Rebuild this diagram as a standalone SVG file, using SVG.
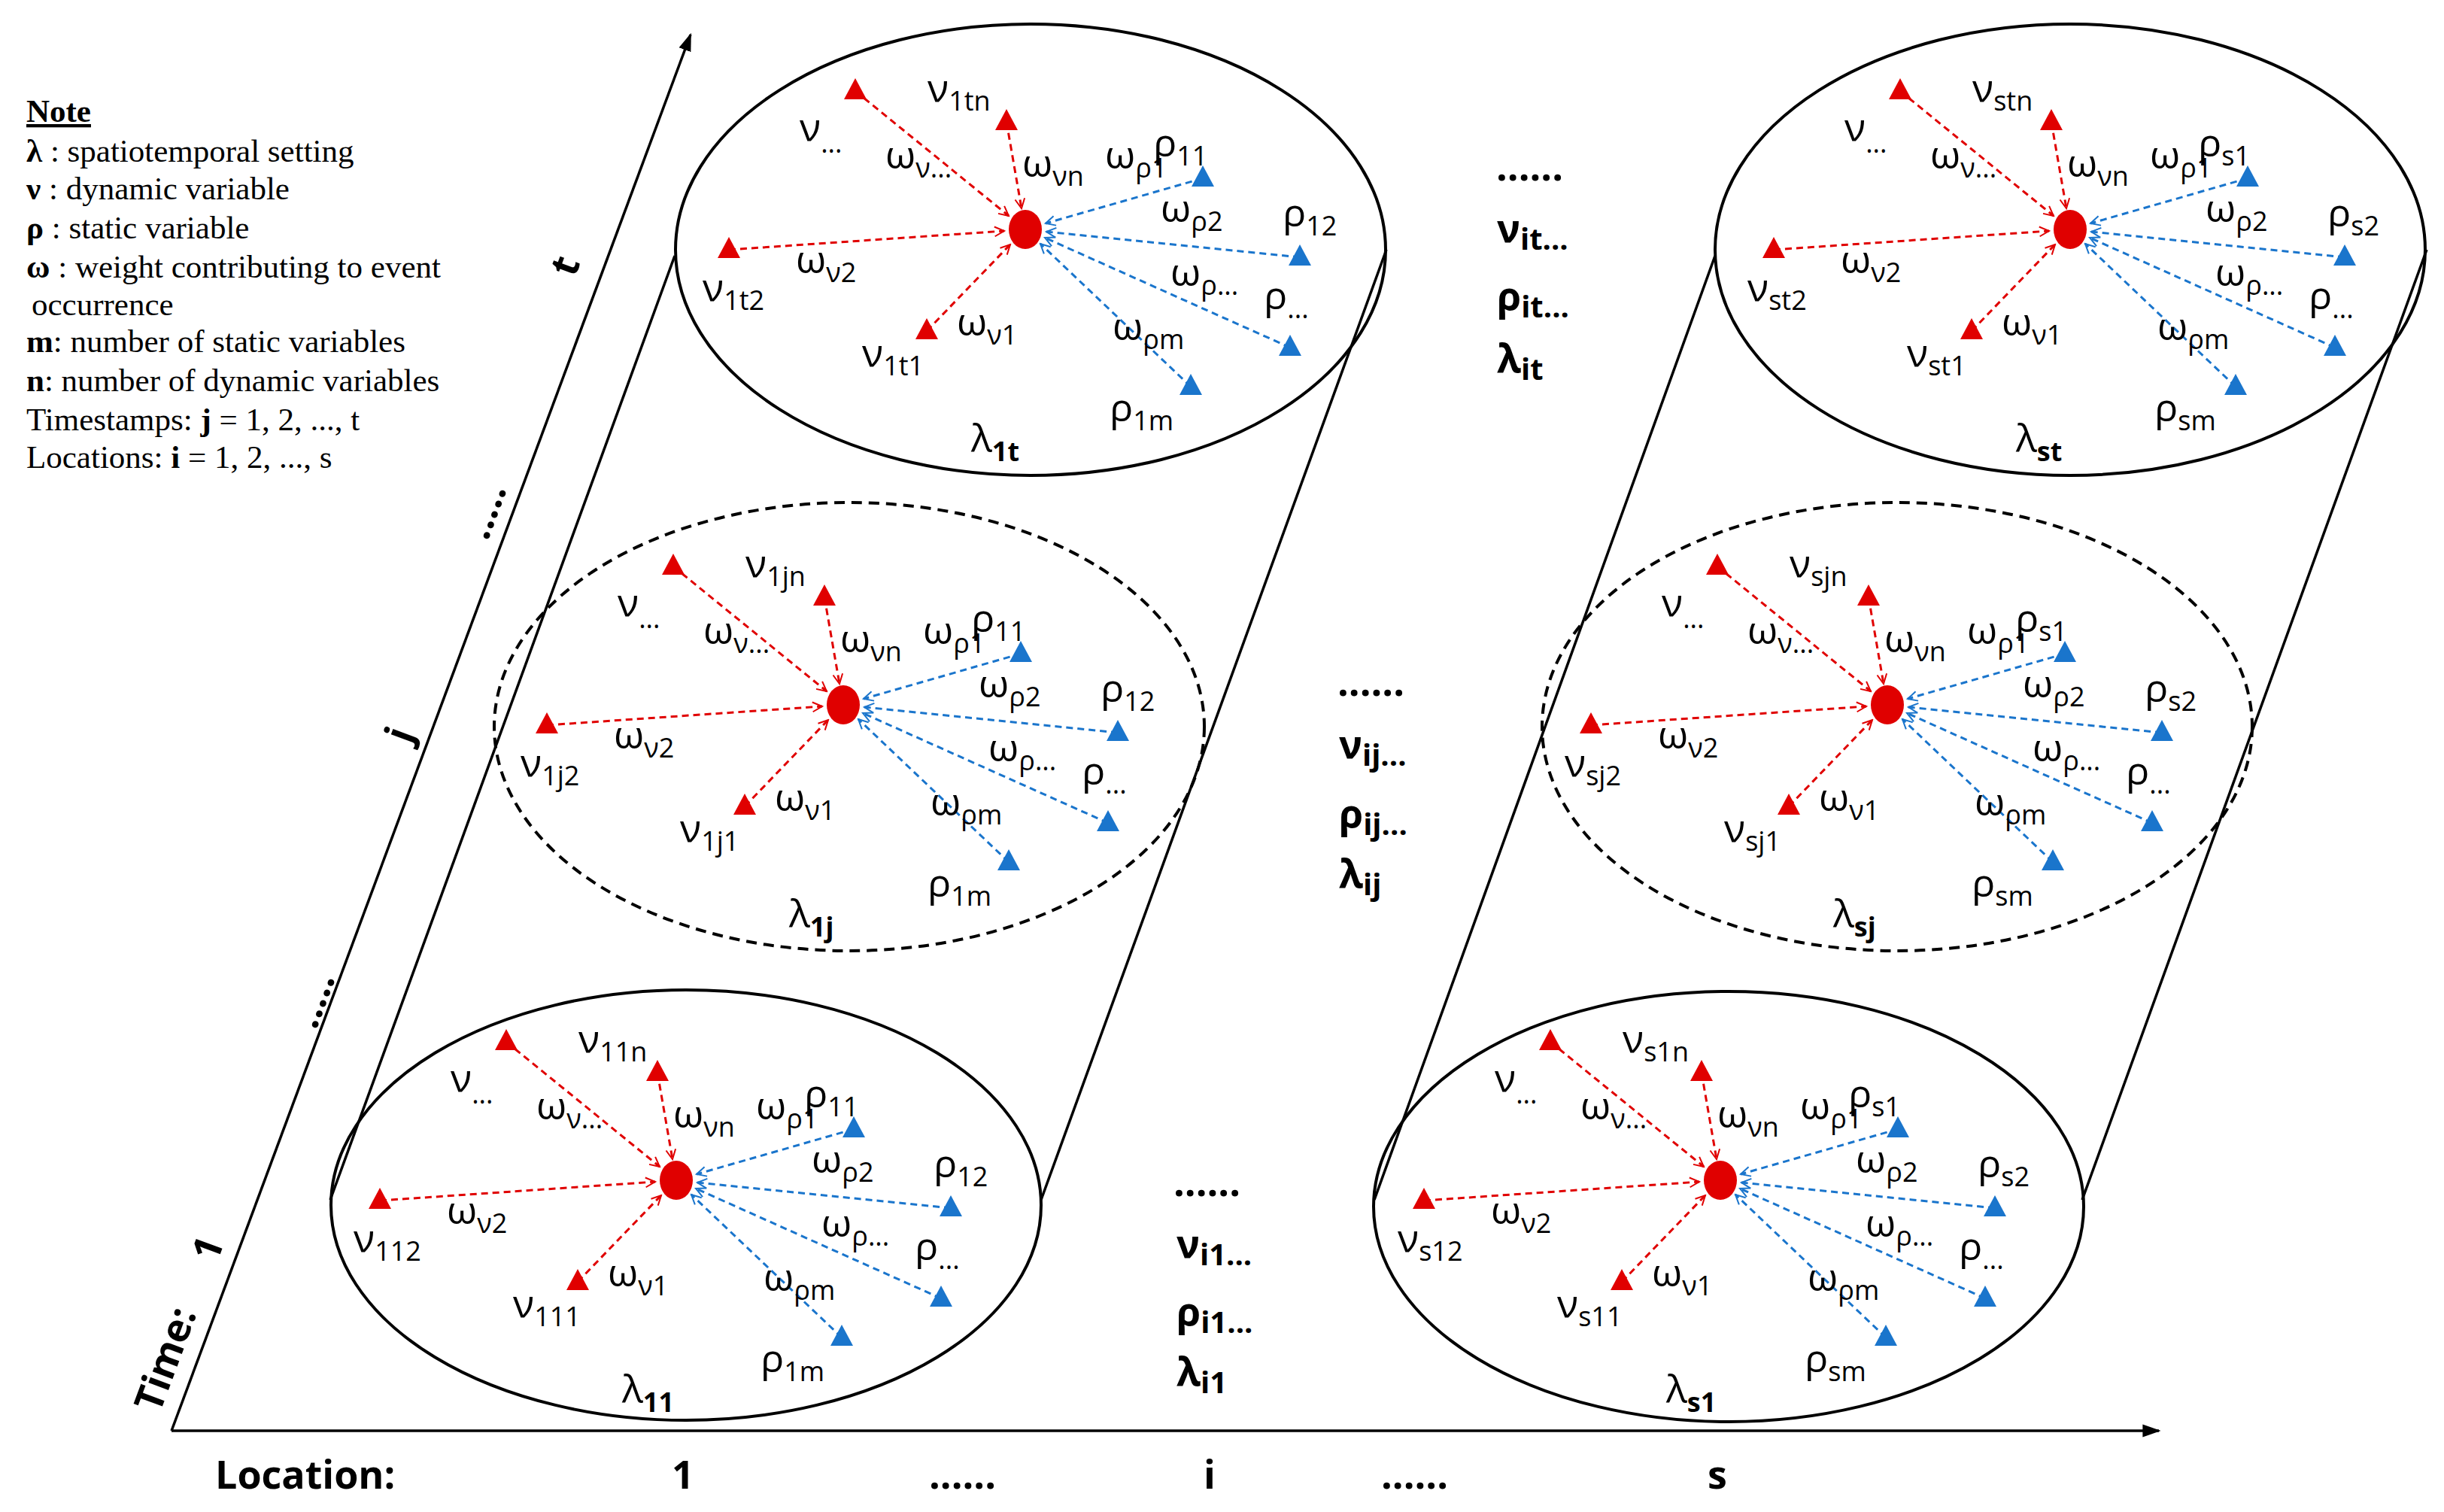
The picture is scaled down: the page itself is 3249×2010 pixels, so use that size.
<svg xmlns="http://www.w3.org/2000/svg" xmlns:xlink="http://www.w3.org/1999/xlink" width="3249" height="2010" viewBox="0 0 3249 2010">
<style>
.s{font-family:"Open Sans","Liberation Sans",sans-serif;font-size:52px;fill:#000}
.sub{font-size:36px}
.b{font-family:"Open Sans","Liberation Sans",sans-serif;font-weight:bold;font-size:52px;fill:#000}
.n{font-family:"Liberation Serif",serif;font-size:43px;fill:#000}
.ell{fill:none;stroke:#000;stroke-width:4}
.dash{stroke-dasharray:14 9}
.rl{stroke:#e00000;stroke-width:3;stroke-dasharray:9 6;fill:none}
.bl{stroke:#1a75cc;stroke-width:3;stroke-dasharray:9 6;fill:none}
.rt{fill:#e00000}.bt{fill:#1a75cc}
.ax{stroke:#000;stroke-width:3.5;fill:none}
</style>
<defs>
<marker id="ar" viewBox="0 0 20 20" refX="18" refY="10" markerWidth="16" markerHeight="16" orient="auto" markerUnits="userSpaceOnUse"><path d="M2,2 L18,10 L2,18" fill="none" stroke="#e00000" stroke-width="2.5"/></marker>
<marker id="ab" viewBox="0 0 20 20" refX="18" refY="10" markerWidth="16" markerHeight="16" orient="auto" markerUnits="userSpaceOnUse"><path d="M2,2 L18,10 L2,18" fill="none" stroke="#1a75cc" stroke-width="2.5"/></marker>
<marker id="ah" viewBox="0 0 20 20" refX="18" refY="10" markerWidth="24" markerHeight="24" orient="auto" markerUnits="userSpaceOnUse"><path d="M0,3 L20,10 L0,17 Z" fill="#000"/></marker>
<polygon id="tri" points="0,-17 15,11 -15,11"/>
<g id="cl">
<line class="rl" x1="-226" y1="-184" x2="-22" y2="-18" marker-end="url(#ar)"/>
<line class="rl" x1="-25" y1="-143" x2="-5" y2="-28" marker-end="url(#ar)"/>
<line class="rl" x1="-394" y1="27" x2="-28" y2="2" marker-end="url(#ar)"/>
<line class="rl" x1="-131" y1="135" x2="-20" y2="20" marker-end="url(#ar)"/>
<line class="bl" x1="236" y1="-68" x2="27" y2="-8" marker-end="url(#ab)"/>
<line class="bl" x1="365" y1="37" x2="28" y2="3" marker-end="url(#ab)"/>
<line class="bl" x1="352" y1="157" x2="26" y2="11" marker-end="url(#ab)"/>
<line class="bl" x1="220" y1="209" x2="20" y2="19" marker-end="url(#ab)"/>
<use xlink:href="#tri" class="rt" x="-226" y="-184"/>
<use xlink:href="#tri" class="rt" x="-25" y="-143"/>
<use xlink:href="#tri" class="rt" x="-394" y="27"/>
<use xlink:href="#tri" class="rt" x="-131" y="135"/>
<use xlink:href="#tri" class="bt" x="236" y="-68"/>
<use xlink:href="#tri" class="bt" x="365" y="37"/>
<use xlink:href="#tri" class="bt" x="352" y="157"/>
<use xlink:href="#tri" class="bt" x="220" y="209"/>
<ellipse cx="0" cy="0" rx="22" ry="26" fill="#e00000"/>
</g>
<g id="w">
<text class="s" x="-300" y="-118">ν<tspan class="sub" dy="16">...</tspan></text>
<text class="s" x="-186" y="-81">ω<tspan class="sub" dy="12">ν...</tspan></text>
<text class="s" x="-4" y="-70">ω<tspan class="sub" dy="12">νn</tspan></text>
<text class="s" x="106" y="-81">ω<tspan class="sub" dy="12">ρ1</tspan></text>
<text class="s" x="180" y="-10">ω<tspan class="sub" dy="12">ρ2</tspan></text>
<text class="s" x="-305" y="58">ω<tspan class="sub" dy="12">ν2</tspan></text>
<text class="s" x="193" y="75">ω<tspan class="sub" dy="12">ρ...</tspan></text>
<text class="s" x="317" y="106">ρ<tspan class="sub" dy="12">...</tspan></text>
<text class="s" x="-91" y="141">ω<tspan class="sub" dy="12">ν1</tspan></text>
<text class="s" x="116" y="147">ω<tspan class="sub" dy="12">ρm</tspan></text>
</g>
</defs>
<rect width="3249" height="2010" fill="#fff"/>

<g id="axes">
<line class="ax" x1="228" y1="1902" x2="2870" y2="1902" marker-end="url(#ah)"/>
<line class="ax" x1="228" y1="1902" x2="918" y2="46" marker-end="url(#ah)"/>
</g>

<g id="note">
<text class="n" x="35" y="162" font-weight="bold" font-family="Liberation Sans,sans-serif" font-size="36" text-decoration="underline">Note</text>
<text class="n" x="35" y="215"><tspan font-weight="bold">λ</tspan> : spatiotemporal setting</text>
<text class="n" x="35" y="265"><tspan font-weight="bold">ν</tspan> : dynamic variable</text>
<text class="n" x="35" y="317"><tspan font-weight="bold">ρ</tspan> : static variable</text>
<text class="n" x="35" y="369"><tspan font-weight="bold">ω</tspan> : weight contributing to event</text>
<text class="n" x="42" y="419">occurrence</text>
<text class="n" x="35" y="468"><tspan font-weight="bold">m</tspan>: number of static variables</text>
<text class="n" x="35" y="520"><tspan font-weight="bold">n</tspan>: number of dynamic variables</text>
<text class="n" x="35" y="572">Timestamps: <tspan font-weight="bold">j</tspan> = 1, 2, ..., t</text>
<text class="n" x="35" y="622">Locations: <tspan font-weight="bold">i</tspan> = 1, 2, ..., s</text>
</g>

<g id="axis-labels">
<text class="b" transform="translate(212,1880) rotate(-69.6)">Time:</text>
<text class="b" transform="translate(288,1680) rotate(-69.6)">1</text>
<text class="b" transform="translate(420,1370) rotate(-69.6)">.....</text>
<text class="b" transform="translate(545,990) rotate(-69.6)">j</text>
<text class="b" transform="translate(648,720) rotate(-69.6)">.....</text>
<text class="b" transform="translate(764,370) rotate(-69.6)">t</text>
<text class="b" x="286" y="1979">Location:</text>
<text class="b" x="893" y="1979">1</text>
<text class="b" x="1235" y="1979">......</text>
<text class="b" x="1600" y="1979">i</text>
<text class="b" x="1836" y="1979">......</text>
<text class="b" x="2270" y="1979">s</text>
</g>

<g id="cylinders">
<line class="ax" x1="439" y1="1595" x2="897" y2="340"/>
<line class="ax" x1="1384" y1="1595" x2="1843" y2="332"/>
<line class="ax" x1="1827" y1="1595" x2="2280" y2="340"/>
<line class="ax" x1="2768" y1="1595" x2="3226" y2="332"/>
</g>

<g id="mid">
<text class="b" x="1560" y="1590">......</text>
<text class="b" x="1564" y="1672" font-size="58">ν<tspan font-size="40" dy="10">i1...</tspan></text>
<text class="b" x="1564" y="1762" font-size="58">ρ<tspan font-size="40" dy="10">i1...</tspan></text>
<text class="b" x="1564" y="1842" font-size="58">λ<tspan font-size="40" dy="10">i1</tspan></text>
<text class="b" x="1778" y="925">......</text>
<text class="b" x="1780" y="1008" font-size="58">ν<tspan font-size="40" dy="10">ij...</tspan></text>
<text class="b" x="1780" y="1100" font-size="58">ρ<tspan font-size="40" dy="10">ij...</tspan></text>
<text class="b" x="1780" y="1180" font-size="58">λ<tspan font-size="40" dy="10">ij</tspan></text>
<text class="b" x="1989" y="240">......</text>
<text class="b" x="1990" y="322" font-size="58">ν<tspan font-size="40" dy="10">it...</tspan></text>
<text class="b" x="1990" y="412" font-size="58">ρ<tspan font-size="40" dy="10">it...</tspan></text>
<text class="b" x="1990" y="495" font-size="58">λ<tspan font-size="40" dy="10">it</tspan></text>
</g>

<g id="connectors">
<use xlink:href="#cl" x="899" y="1569"/>
<use xlink:href="#cl" x="1121" y="937"/>
<use xlink:href="#cl" x="1363" y="305"/>
<use xlink:href="#cl" x="2287" y="1569"/>
<use xlink:href="#cl" x="2509" y="937"/>
<use xlink:href="#cl" x="2752" y="305"/>
</g>

<g id="node-11" transform="translate(899,1569)">
<ellipse class="ell" cx="13" cy="33" rx="472" ry="286"/>
<use xlink:href="#w"/>
<text class="s" x="-130" y="-170">ν<tspan class="sub" dy="12">11n</tspan></text>
<text class="s" x="170" y="-97">ρ<tspan class="sub" dy="12">11</tspan></text>
<text class="s" x="342" y="-4">ρ<tspan class="sub" dy="12">12</tspan></text>
<text class="s" x="-429" y="95">ν<tspan class="sub" dy="12">112</tspan></text>
<text class="s" x="-217" y="182">ν<tspan class="sub" dy="12">111</tspan></text>
<text class="s" x="112" y="255">ρ<tspan class="sub" dy="12">1m</tspan></text>
<text class="s" x="-72" y="296">λ<tspan class="sub" dy="12" font-weight="bold">11</tspan></text>
</g>
<g id="node-1j" transform="translate(1121,937)">
<ellipse class="ell dash" cx="8" cy="29" rx="472" ry="298"/>
<use xlink:href="#w"/>
<text class="s" x="-130" y="-170">ν<tspan class="sub" dy="12">1jn</tspan></text>
<text class="s" x="170" y="-97">ρ<tspan class="sub" dy="12">11</tspan></text>
<text class="s" x="342" y="-4">ρ<tspan class="sub" dy="12">12</tspan></text>
<text class="s" x="-429" y="95">ν<tspan class="sub" dy="12">1j2</tspan></text>
<text class="s" x="-217" y="182">ν<tspan class="sub" dy="12">1j1</tspan></text>
<text class="s" x="112" y="255">ρ<tspan class="sub" dy="12">1m</tspan></text>
<text class="s" x="-72" y="296">λ<tspan class="sub" dy="12" font-weight="bold">1j</tspan></text>
</g>
<g id="node-1t" transform="translate(1363,305)">
<ellipse class="ell" cx="7" cy="27" rx="472" ry="300"/>
<use xlink:href="#w"/>
<text class="s" x="-130" y="-170">ν<tspan class="sub" dy="12">1tn</tspan></text>
<text class="s" x="170" y="-97">ρ<tspan class="sub" dy="12">11</tspan></text>
<text class="s" x="342" y="-4">ρ<tspan class="sub" dy="12">12</tspan></text>
<text class="s" x="-429" y="95">ν<tspan class="sub" dy="12">1t2</tspan></text>
<text class="s" x="-217" y="182">ν<tspan class="sub" dy="12">1t1</tspan></text>
<text class="s" x="112" y="255">ρ<tspan class="sub" dy="12">1m</tspan></text>
<text class="s" x="-72" y="296">λ<tspan class="sub" dy="12" font-weight="bold">1t</tspan></text>
</g>
<g id="node-s1" transform="translate(2287,1569)">
<ellipse class="ell" cx="11" cy="35" rx="472" ry="286"/>
<use xlink:href="#w"/>
<text class="s" x="-130" y="-170">ν<tspan class="sub" dy="12">s1n</tspan></text>
<text class="s" x="170" y="-97">ρ<tspan class="sub" dy="12">s1</tspan></text>
<text class="s" x="342" y="-4">ρ<tspan class="sub" dy="12">s2</tspan></text>
<text class="s" x="-429" y="95">ν<tspan class="sub" dy="12">s12</tspan></text>
<text class="s" x="-217" y="182">ν<tspan class="sub" dy="12">s11</tspan></text>
<text class="s" x="112" y="255">ρ<tspan class="sub" dy="12">sm</tspan></text>
<text class="s" x="-72" y="296">λ<tspan class="sub" dy="12" font-weight="bold">s1</tspan></text>
</g>
<g id="node-sj" transform="translate(2509,937)">
<ellipse class="ell dash" cx="13" cy="29" rx="472" ry="298"/>
<use xlink:href="#w"/>
<text class="s" x="-130" y="-170">ν<tspan class="sub" dy="12">sjn</tspan></text>
<text class="s" x="170" y="-97">ρ<tspan class="sub" dy="12">s1</tspan></text>
<text class="s" x="342" y="-4">ρ<tspan class="sub" dy="12">s2</tspan></text>
<text class="s" x="-429" y="95">ν<tspan class="sub" dy="12">sj2</tspan></text>
<text class="s" x="-217" y="182">ν<tspan class="sub" dy="12">sj1</tspan></text>
<text class="s" x="112" y="255">ρ<tspan class="sub" dy="12">sm</tspan></text>
<text class="s" x="-72" y="296">λ<tspan class="sub" dy="12" font-weight="bold">sj</tspan></text>
</g>
<g id="node-st" transform="translate(2752,305)">
<ellipse class="ell" cx="0" cy="27" rx="472" ry="300"/>
<use xlink:href="#w"/>
<text class="s" x="-130" y="-170">ν<tspan class="sub" dy="12">stn</tspan></text>
<text class="s" x="170" y="-97">ρ<tspan class="sub" dy="12">s1</tspan></text>
<text class="s" x="342" y="-4">ρ<tspan class="sub" dy="12">s2</tspan></text>
<text class="s" x="-429" y="95">ν<tspan class="sub" dy="12">st2</tspan></text>
<text class="s" x="-217" y="182">ν<tspan class="sub" dy="12">st1</tspan></text>
<text class="s" x="112" y="255">ρ<tspan class="sub" dy="12">sm</tspan></text>
<text class="s" x="-72" y="296">λ<tspan class="sub" dy="12" font-weight="bold">st</tspan></text>
</g>
</svg>
